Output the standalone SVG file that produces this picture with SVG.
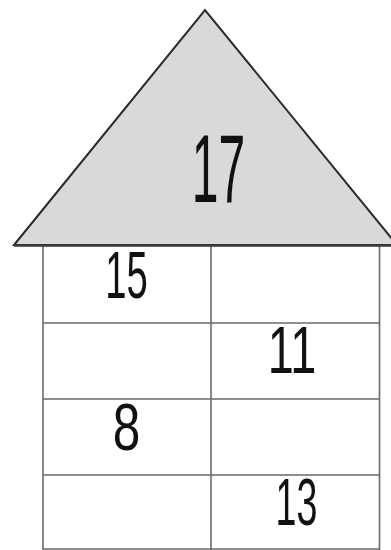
<svg xmlns="http://www.w3.org/2000/svg" width="391" height="550" viewBox="0 0 391 550">
<style>
.num{font-family:"Liberation Sans",Arial,sans-serif;fill:#111;text-anchor:middle}
.grid{fill:none;stroke:#6a6a6a;stroke-width:1.6}
.roof{fill:#d9d9d9;stroke:#2b2b2b;stroke-width:2}
</style>
<rect width="391" height="550" fill="#fff"/>
<g id="roof">
<polygon class="roof" points="14,245 205,10 397,245"/>
<text class="num" font-size="96" transform="translate(218.5,202) scale(0.5,1)">17</text>
</g>
<g id="grid">
<line class="grid" x1="43" y1="246" x2="43" y2="552"/>
<line class="grid" x1="211" y1="246" x2="211" y2="552"/>
<line class="grid" x1="379.5" y1="246" x2="379.5" y2="552"/>
<line class="grid" x1="43" y1="323" x2="379.5" y2="323"/>
<line class="grid" x1="43" y1="399" x2="379.5" y2="399"/>
<line class="grid" x1="43" y1="475" x2="379.5" y2="475"/>
<line class="grid" x1="43" y1="549" x2="379.5" y2="549"/>
<line x1="14" y1="245.5" x2="391" y2="245.5" stroke="#3a3a3a" stroke-width="2.5"/>
</g>
<g id="cell-15"><text class="num" font-size="67" transform="translate(126.5,298) scale(0.57,1)">15</text></g>
<g id="cell-11"><text class="num" font-size="67" transform="translate(292,373) scale(0.7,1)">11</text></g>
<g id="cell-8"><text class="num" font-size="66" transform="translate(126.5,450) scale(0.75,1)">8</text></g>
<g id="cell-13"><text class="num" font-size="66" transform="translate(296.5,525) scale(0.57,1)">13</text></g>
</svg>
